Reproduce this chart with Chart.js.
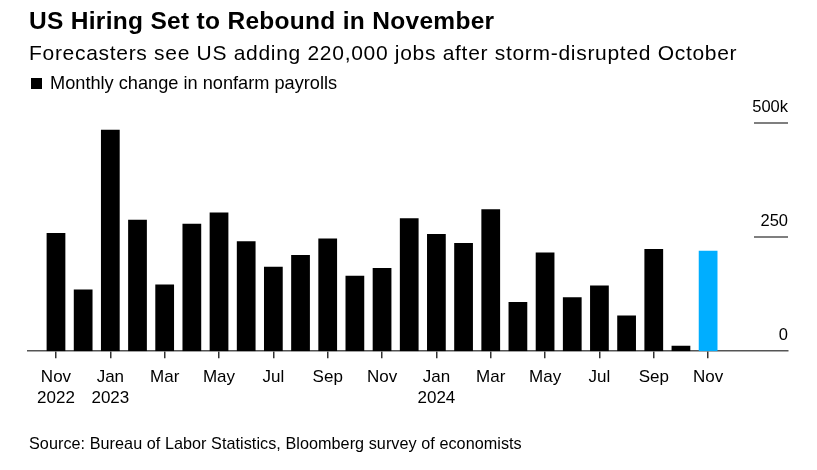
<!DOCTYPE html>
<html>
<head>
<meta charset="utf-8">
<script src="https://cdn.jsdelivr.net/npm/chart.js@4.4.1/dist/chart.umd.min.js"></script>
<style>
  html, body { margin: 0; padding: 0; background: #fff; }
  body { width: 817px; height: 470px; position: relative; overflow: hidden; font-family: "Liberation Sans", Arial, sans-serif; color: #000; }
  #chart { position: absolute; left: 0; top: 0; }
  .title { position: absolute; left: 29px; top: 7px; font-size: 24.5px; font-weight: bold; letter-spacing: 0.3px; white-space: nowrap; }
  .subtitle { position: absolute; left: 29px; top: 41px; font-size: 21px; letter-spacing: 0.7px; white-space: nowrap; }
  .legend { position: absolute; left: 31px; top: 73px; font-size: 18.2px; white-space: nowrap; }
  .legend span.box { display: inline-block; width: 11px; height: 11px; background: #000; margin-right: 8px; vertical-align: 0; }
  .source { position: absolute; left: 29px; top: 434px; font-size: 16.2px; letter-spacing: 0.05px; white-space: nowrap; }
</style>
</head>
<body>
<canvas id="chart" width="817" height="470"></canvas>
<div class="title">US Hiring Set to Rebound in November</div>
<div class="subtitle">Forecasters see US adding 220,000 jobs after storm-disrupted October</div>
<div class="legend"><span class="box"></span>Monthly change in nonfarm payrolls</div>
<div class="source">Source: Bureau of Labor Statistics, Bloomberg survey of economists</div>
<script>
'use strict'

// monthly change in nonfarm payrolls, thousands (last one is the forecast)
let months = ['Nov 2022', 'Dec 2022', 'Jan 2023', 'Feb 2023', 'Mar 2023', 'Apr 2023', 'May 2023',
  'Jun 2023', 'Jul 2023', 'Aug 2023', 'Sep 2023', 'Oct 2023', 'Nov 2023', 'Dec 2023',
  'Jan 2024', 'Feb 2024', 'Mar 2024', 'Apr 2024', 'May 2024', 'Jun 2024', 'Jul 2024',
  'Aug 2024', 'Sep 2024', 'Oct 2024', 'Nov 2024'];
let payrolls = [259, 135, 485, 288, 146, 279, 304, 241, 185, 211, 247, 165, 182, 291,
  257, 237, 311, 108, 216, 118, 144, 78, 224, 12, 220];
let forecast = [false, false, false, false, false, false, false, false, false, false, false, false, false, false,
  false, false, false, false, false, false, false, false, false, false, true];

let tickLabels = [['Nov', '2022'], ['Jan', '2023'], ['Mar'], ['May'], ['Jul'], ['Sep'], ['Nov'],
  ['Jan', '2024'], ['Mar'], ['May'], ['Jul'], ['Sep'], ['Nov']];
let yTicks = [0, 250, 500];
let yTickLabels = ['0', '250', '500k'];

let points = payrolls.map((v, i) => ({ x: i, y: v }));
let colors = forecast.map(f => f ? '#00aeff' : '#000000');

// short gridline stubs with labels on top, right side
let rightAxis = {
  id: 'rightAxis',
  afterDraw(chart) {
    let ctx = chart.ctx;
    let y = chart.scales.y;
    let right = chart.chartArea.right;
    ctx.save();
    ctx.strokeStyle = '#555';
    ctx.lineWidth = 1.5;
    ctx.fillStyle = '#000';
    ctx.font = '16.5px "Liberation Sans", Arial, sans-serif';
    ctx.textAlign = 'right';
    ctx.textBaseline = 'alphabetic';
    for (let i = 0; i < yTicks.length; i++) {
      let py = y.getPixelForValue(yTicks[i]);
      if (yTicks[i] !== 0) {
        ctx.beginPath();
        ctx.moveTo(right - 34, py);
        ctx.lineTo(right, py);
        ctx.stroke();
      }
      ctx.fillText(yTickLabels[i], right, py - 11);
    }
    ctx.restore();
  }
};

let ctx = document.getElementById('chart').getContext('2d');
let myChart = new Chart(ctx, {
  type: 'bar',
  data: {
    datasets: [{
      label: 'Monthly change in nonfarm payrolls',
      data: points,
      backgroundColor: colors,
      borderWidth: 0,
      barPercentage: 0.69,
      categoryPercentage: 1
    }]
  },
  options: {
    responsive: false,
    animation: false,
    devicePixelRatio: 1,
    layout: { padding: { left: 28, right: 29, top: 123, bottom: 53 } },
    plugins: {
      legend: { display: false },
      tooltip: { enabled: false },
      title: { display: false }
    },
    scales: {
      x: {
        type: 'linear',
        offset: false,
        min: -1.03,
        max: 26.94,
        afterBuildTicks(scale) {
          scale.ticks = tickLabels.map((t, i) => ({ value: i * 2 }));
        },
        ticks: {
          color: '#000',
          font: { family: '"Liberation Sans", Arial, sans-serif', size: 17, lineHeight: 1.26 },
          padding: 8,
          maxRotation: 0,
          autoSkip: false,
          callback(value) {
            return tickLabels[value / 2];
          }
        },
        grid: { offset: false, drawOnChartArea: false, drawTicks: true, tickLength: 7, color: '#333', lineWidth: 1.5 },
        border: { display: true, color: '#555', width: 1.5 }
      },
      y: {
        display: false,
        min: 0,
        max: 500
      }
    }
  },
  plugins: [rightAxis]
});
</script>
</body>
</html>
